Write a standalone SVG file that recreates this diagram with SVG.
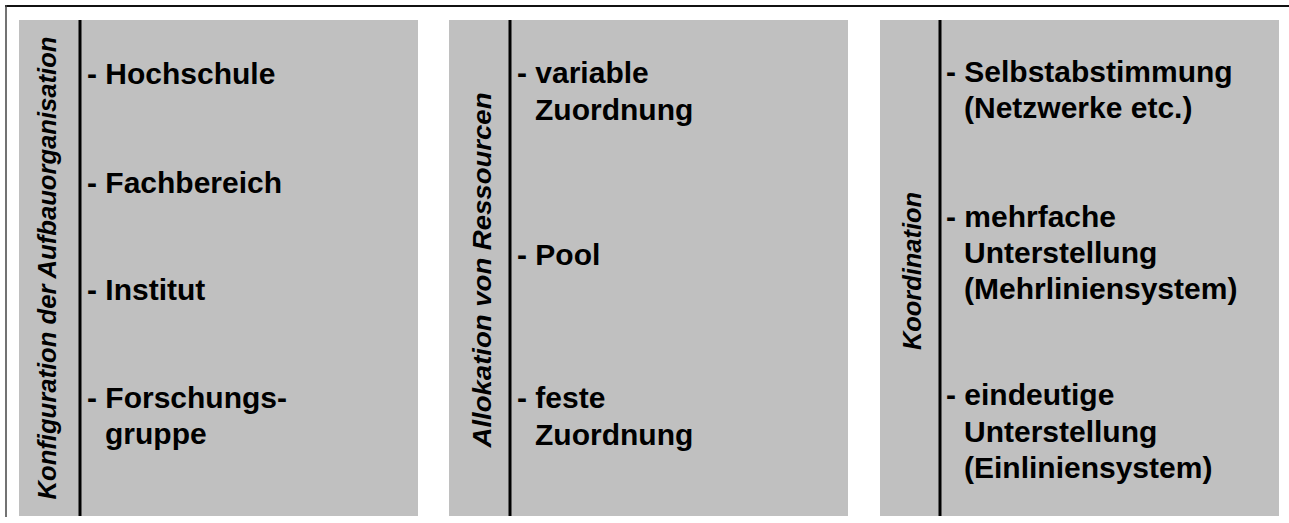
<svg xmlns="http://www.w3.org/2000/svg" width="1289" height="523" viewBox="0 0 1289 523">
<style>
.bg{fill:#c0c0c0}
.div{stroke:#000;stroke-width:3}
.item{font-family:"Liberation Sans",Arial,sans-serif;font-weight:bold;font-size:30px;fill:#000}
.lab{font-family:"Liberation Sans",Arial,sans-serif;font-weight:bold;font-style:italic;font-size:25.5px;fill:#000;text-anchor:middle}
</style>
<rect x="0" y="0" width="1289" height="523" fill="#fff"/>
<g id="frame">
<line x1="5" y1="6" x2="1289" y2="6" stroke="#111" stroke-width="2"/>
<line x1="6" y1="5" x2="6" y2="517" stroke="#444" stroke-width="1.5"/>
</g>
<g id="panel-aufbau">
<rect class="bg" x="19" y="20" width="399" height="496"/>
<line class="div" x1="80" y1="20" x2="80" y2="516"/>
<text class="lab" transform="translate(56,268) rotate(-90)" textLength="463" lengthAdjust="spacingAndGlyphs">Konfiguration der Aufbauorganisation</text>
<text class="item" x="87" y="84">- Hochschule</text>
<text class="item" x="87" y="193">- Fachbereich</text>
<text class="item" x="87" y="300">- Institut</text>
<text class="item" x="87" y="408">- Forschungs-</text>
<text class="item" x="105" y="444">gruppe</text>
</g>
<g id="panel-ressourcen">
<rect class="bg" x="449" y="20" width="399" height="496"/>
<line class="div" x1="510" y1="20" x2="510" y2="516"/>
<text class="lab" transform="translate(491,270) rotate(-90)" textLength="355" lengthAdjust="spacingAndGlyphs">Allokation von Ressourcen</text>
<text class="item" x="517" y="83">- variable</text>
<text class="item" x="535" y="120">Zuordnung</text>
<text class="item" x="517" y="265">- Pool</text>
<text class="item" x="517" y="408">- feste</text>
<text class="item" x="535" y="445">Zuordnung</text>
</g>
<g id="panel-koordination">
<rect class="bg" x="880" y="20" width="399" height="496"/>
<line class="div" x1="940" y1="20" x2="940" y2="516"/>
<text class="lab" transform="translate(921,271) rotate(-90)" textLength="158" lengthAdjust="spacingAndGlyphs">Koordination</text>
<text class="item" x="946" y="82">- Selbstabstimmung</text>
<text class="item" x="964" y="118">(Netzwerke etc.)</text>
<text class="item" x="946" y="227">- mehrfache</text>
<text class="item" x="964" y="263">Unterstellung</text>
<text class="item" x="964" y="299">(Mehrliniensystem)</text>
<text class="item" x="946" y="405">- eindeutige</text>
<text class="item" x="964" y="442">Unterstellung</text>
<text class="item" x="964" y="478">(Einliniensystem)</text>
</g>
</svg>
